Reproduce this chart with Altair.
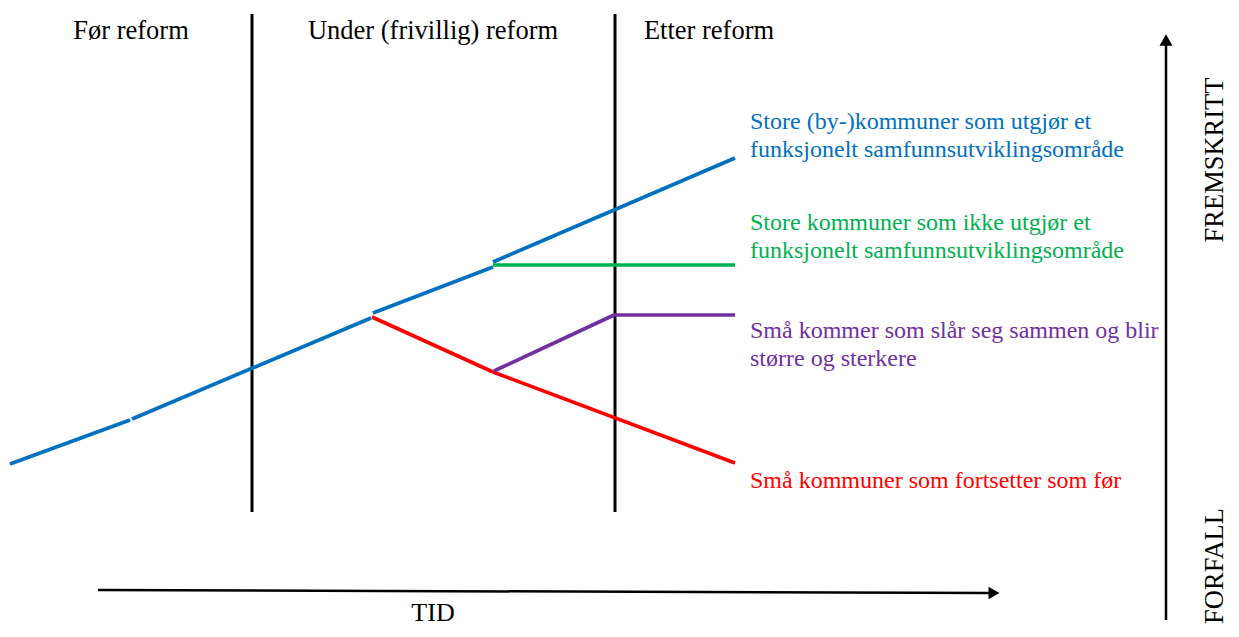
import altair as alt
import pandas as pd

# ---- data (time on x, progress on y) ----
seg_id = ["b1", "b1", "b2", "b2", "b3", "b3", "b4", "b4",
          "r1", "r1", "r2", "r2",
          "p1", "p1", "p2", "p2",
          "g1", "g1"]
seg_series = ["blue"] * 8 + ["red"] * 4 + ["purple"] * 4 + ["green"] * 2
seg_time = [10, 130, 132, 371, 373, 493, 493, 735,
            372, 493, 493, 735,
            494, 614, 614, 735,
            493, 735]
seg_prog = [464, 420, 419, 318, 313, 267, 262, 158,
            317, 372, 372, 463,
            371, 315, 315, 315,
            265, 265]

phase_x = [252, 615]
phase_top = [14, 14]
phase_bottom = [512, 512]

header_text = ["Før reform", "Under (frivillig) reform", "Etter reform"]
header_x = [131, 433, 709]
header_y = [31, 31, 31]

label_text = ["Store (by-)kommuner som utgjør et", "funksjonelt samfunnsutviklingsområde",
              "Store kommuner som ikke utgjør et", "funksjonelt samfunnsutviklingsområde",
              "Små kommer som slår seg sammen og blir", "større og sterkere",
              "Små kommuner som fortsetter som før"]
label_series = ["blue", "blue", "green", "green", "purple", "purple", "red"]
label_x = [750] * 7
label_y = [122, 150, 223, 251, 331, 359, 481]

series_domain = ["blue", "green", "purple", "red"]
series_colors = ["#0070C0", "#00B050", "#7030A0", "#FF0000"]

# ---- chart frame ----
W, H = 1223, 621
xs = alt.Scale(domain=[8, 8 + W], nice=False, zero=False)
ys = alt.Scale(domain=[8, 8 + H], nice=False, zero=False, reverse=True)
X = lambda f: alt.X(f, type="quantitative", scale=xs, axis=None)
Y = lambda f: alt.Y(f, type="quantitative", scale=ys, axis=None)
cscale = alt.Scale(domain=series_domain, range=series_colors)

seg_df = pd.DataFrame({"id": seg_id, "series": seg_series, "t": seg_time, "p": seg_prog,
                       "order": list(range(len(seg_id)))})
lines = alt.Chart(seg_df).mark_line(strokeWidth=3.7, strokeCap="butt").encode(
    x=X("t"), y=Y("p"), detail="id:N", order="order:Q",
    color=alt.Color("series:N", scale=cscale, legend=None))

phase_df = pd.DataFrame({"x": phase_x, "y1": phase_top, "y2": phase_bottom})
phases = alt.Chart(phase_df).mark_rule(color="black", strokeWidth=3).encode(
    x=X("x"), y=Y("y1"), y2="y2")

head_df = pd.DataFrame({"text": header_text, "x": header_x, "y": header_y})
headers = alt.Chart(head_df).mark_text(font="Liberation Serif", fontSize=26.5, color="black",
                                       align="center", baseline="middle").encode(
    x=X("x"), y=Y("y"), text="text:N")

lab_df = pd.DataFrame({"text": label_text, "series": label_series, "x": label_x, "y": label_y})
labels = alt.Chart(lab_df).mark_text(font="Liberation Serif", fontSize=24,
                                     align="left", baseline="middle").encode(
    x=X("x"), y=Y("y"), text="text:N",
    color=alt.Color("series:N", scale=cscale, legend=None))

# time axis arrow
tarrow_df = pd.DataFrame({"x": [98], "x2": [993], "y": [590], "y2": [593]})
tarrow = alt.Chart(tarrow_df).mark_rule(color="black", strokeWidth=2.5).encode(
    x=X("x"), x2="x2", y=Y("y"), y2="y2")
thead = alt.Chart(pd.DataFrame({"x": [994], "y": [593]})).mark_point(
    shape="triangle-right", filled=True, color="black", size=160, opacity=1).encode(
    x=X("x"), y=Y("y"))

# progress axis arrow
parrow_df = pd.DataFrame({"x": [1166], "y": [620], "y2": [42]})
parrow = alt.Chart(parrow_df).mark_rule(color="black", strokeWidth=2.5).encode(
    x=X("x"), y=Y("y"), y2="y2")
phead = alt.Chart(pd.DataFrame({"x": [1166], "y": [40]})).mark_point(
    shape="triangle-up", filled=True, color="black", size=170, opacity=1).encode(
    x=X("x"), y=Y("y"))

tid = alt.Chart(pd.DataFrame({"text": ["TID"], "x": [433], "y": [613]})).mark_text(
    font="Liberation Serif", fontSize=26, color="black", align="center", baseline="middle").encode(
    x=X("x"), y=Y("y"), text="text:N")

vert_df = pd.DataFrame({"text": ["FREMSKRITT", "FORFALL"], "x": [1215, 1215], "y": [160, 566]})
vert = alt.Chart(vert_df).mark_text(font="Liberation Serif", fontSize=26.5, color="black",
                                    align="center", baseline="middle", angle=270).encode(
    x=X("x"), y=Y("y"), text="text:N")

chart = alt.layer(phases, lines, headers, labels, tarrow, thead, parrow, phead, tid, vert).properties(
    width=W, height=H, padding=0, autosize=alt.AutoSizeParams(type="none")
).configure_view(stroke=None)

chart.save("out.html", embed_options={"renderer": "svg", "actions": False})
